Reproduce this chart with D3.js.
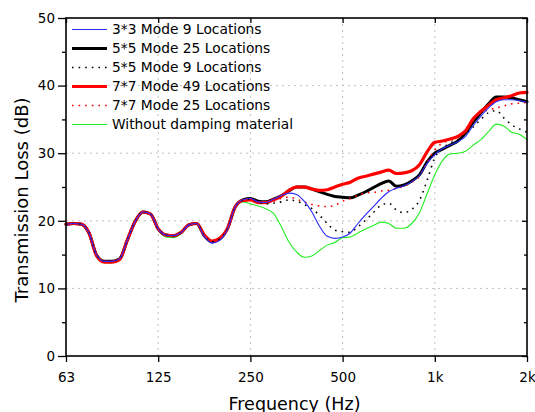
<!DOCTYPE html>
<html><head><meta charset="utf-8">
<script src="https://cdn.jsdelivr.net/npm/d3@7"></script>
<style>html,body{margin:0;padding:0;background:#fff;}svg{display:block;}</style>
</head><body>
<script>
const freqs = [62.5, 66.2, 70.2, 74.3, 78.7, 83.4, 88.4, 93.6, 99.2, 105.1, 111.4, 118, 125, 132.4, 140.3, 148.7, 157.5, 166.9, 176.8, 187.3, 198.4, 210.2, 222.7, 236, 250, 264.9, 280.6, 297.3, 315, 333.7, 353.6, 374.6, 396.9, 420.4, 445.4, 471.9, 500, 529.7, 561.2, 594.6, 630, 667.4, 707.1, 749.2, 793.7, 840.9, 890.9, 943.9, 1000, 1059.5, 1122.5, 1189.2, 1259.9, 1334.8, 1414.2, 1498.3, 1587.4, 1681.8, 1781.8, 1887.7, 2000];

const mode3x3_9 = [19.5,19.6,19.5,18.2,14.9,14.0,14.0,14.4,17.2,19.9,21.3,21.0,18.8,17.9,17.8,18.3,19.4,19.6,17.7,16.7,17.1,18.7,22.0,23.1,
  23.3,22.8,22.7,23.2,23.7,24.1,23.9,22.9,21.3,19.2,17.7,17.4,17.6,18.2,19.6,20.9,22.1,23.3,24.3,24.8,25.2,25.8,26.7,28.5,29.8,30.7,31.2,31.7,32.5,34.1,35.5,36.7,37.6,37.9,37.9,37.8,37.5];
const mode5x5_25 = [19.5,19.6,19.5,18.2,14.9,14.0,14.0,14.4,17.2,19.9,21.3,21.0,18.8,17.9,17.8,18.3,19.4,19.6,17.8,16.9,17.3,18.8,22.0,23.1,
  23.3,22.9,22.8,23.2,23.7,24.4,25.0,25.0,24.7,24.3,23.9,23.6,23.5,23.4,23.8,24.3,24.9,25.5,25.9,25.1,25.3,25.9,26.8,28.7,30.0,30.6,31.2,31.8,33.0,34.6,36.0,37.3,38.3,38.3,38.2,37.9,37.6];
const mode5x5_9 = [19.5,19.6,19.5,18.2,14.9,14.0,14.0,14.4,17.2,19.9,21.3,21.0,18.8,17.9,17.8,18.3,19.4,19.6,17.8,16.9,17.3,18.8,22.0,23.0,
  23.2,22.8,22.5,22.6,22.8,23.1,22.9,22.4,21.8,20.8,19.6,18.6,18.4,18.3,19.1,20.1,21.2,22.3,22.6,21.6,21.2,21.7,23.0,26.0,29.3,30.7,31.5,32.0,32.8,33.9,35.0,36.0,36.3,35.2,34.2,33.6,33.1];
const mode7x7_49 = [19.5,19.6,19.5,18.2,14.8,13.9,13.9,14.3,17.2,19.9,21.3,21.0,18.8,17.9,17.8,18.3,19.4,19.6,17.9,17.0,17.4,18.8,22.0,23.0,
  23.1,22.7,22.7,23.1,23.6,24.5,25.0,25.0,24.7,24.5,24.6,25.0,25.4,25.7,26.3,26.6,26.9,27.2,27.5,27.0,27.1,27.4,28.3,30.2,31.6,31.8,32.1,32.5,33.3,35.1,36.2,37.1,37.9,38.2,38.5,38.9,39.0];
const mode7x7_25 = [19.5,19.6,19.5,18.2,14.8,13.9,13.9,14.3,17.2,19.9,21.3,21.0,18.8,17.9,17.8,18.3,19.4,19.6,17.9,17.0,17.4,18.8,22.0,23.0,
  23.1,22.7,22.7,22.9,23.3,23.5,23.2,22.8,22.4,22.2,22.1,22.3,22.9,23.3,23.8,24.1,24.2,24.4,24.5,24.8,25.1,25.7,26.6,28.6,30.5,31.5,31.9,32.3,33.5,35.1,36.0,36.4,36.7,37.0,37.3,37.4,37.5];
const noDamping = [19.4,19.5,19.4,18.1,14.8,13.8,13.8,14.2,17.1,19.8,21.2,20.9,18.6,17.6,17.5,18.1,19.3,19.5,17.8,16.9,17.3,18.6,21.8,22.8,
  22.5,22.2,21.8,21.1,19.2,16.9,15.4,14.6,14.8,15.6,16.4,16.8,17.5,17.6,18.2,18.8,19.3,19.8,19.6,18.9,18.9,19.6,21.2,24.0,26.8,28.9,29.9,30.0,30.3,31.2,32.0,33.2,34.3,34.0,33.1,32.8,32.0];

const seriesNames = ["3*3 Mode 9 Locations","5*5 Mode 25 Locations","5*5 Mode 9 Locations","7*7 Mode 49 Locations","7*7 Mode 25 Locations","Without damping material"];
const seriesValues = [mode3x3_9, mode5x5_25, mode5x5_9, mode7x7_49, mode7x7_25, noDamping];
const xTickValues = [62.5,125,250,500,1000,2000];
const xTickLabels = ["63","125","250","500","1k","2k"];
const yTicks = [0,10,20,30,40,50];
const yMinorTicks = [5,15,25,35,45];

const styles = [
  {color:"#2a2aff", width:1.1, dash:null},
  {color:"#000000", width:3, dash:null},
  {color:"#000000", width:1.6, dash:"1.6,5"},
  {color:"#ff0000", width:3.2, dash:null},
  {color:"#ff0000", width:1.6, dash:"1.6,5"},
  {color:"#22ee22", width:1.1, dash:null}
];
const drawOrder = [5,1,3,4,2,0];

const W=535,H=412;
const m={l:66,r:8,t:18,b:56};
const svg=d3.select("body").append("svg").attr("width",W).attr("height",H);
const x=d3.scaleLog().domain([62.5,2000]).range([m.l,W-m.r]);
const y=d3.scaleLinear().domain([0,50]).range([H-m.b,m.t]);
const font="'DejaVu Sans', sans-serif";

// grid
const g=svg.append("g");
g.selectAll("line.gx").data(xTickValues.slice(1,-1)).join("line")
 .attr("x1",d=>x(d)).attr("x2",d=>x(d)).attr("y1",y(0)).attr("y2",y(50))
 .attr("stroke","#c0c0c0").attr("stroke-width",1).attr("stroke-dasharray","2,4");
g.selectAll("line.gy").data(yTicks.slice(1,-1)).join("line")
 .attr("y1",d=>y(d)).attr("y2",d=>y(d)).attr("x1",x(62.5)).attr("x2",x(2000))
 .attr("stroke","#c0c0c0").attr("stroke-width",1).attr("stroke-dasharray","2,4");

// lines
const line=d3.line().x((d,i)=>x(freqs[i])).y(d=>y(d)).curve(d3.curveMonotoneX);
drawOrder.forEach(k=>{
  const p=svg.append("path").datum(seriesValues[k]).attr("d",line)
   .attr("fill","none").attr("stroke",styles[k].color).attr("stroke-width",styles[k].width)
   .attr("stroke-linejoin","round").attr("stroke-linecap",styles[k].dash?"butt":"round");
  if(styles[k].dash) p.attr("stroke-dasharray",styles[k].dash);
});

// axes
const xAxis=d3.axisBottom(x).tickValues(xTickValues).tickFormat((d,i)=>xTickLabels[i]).tickSize(6).tickPadding(10);
svg.append("g").attr("transform",`translate(0,${y(0)})`).call(xAxis);
const yAxis=d3.axisLeft(y).tickValues(yTicks).tickSize(8).tickPadding(3);
svg.append("g").attr("transform",`translate(${x(62.5)},0)`).call(yAxis);
const yMinor=d3.axisLeft(y).tickValues(yMinorTicks).tickSize(4).tickFormat("");
svg.append("g").attr("transform",`translate(${x(62.5)},0)`).call(yMinor);
const yRight=d3.axisLeft(y).tickValues(yTicks).tickSize(5).tickFormat("");
svg.append("g").attr("transform",`translate(${x(2000)},0)`).call(yRight);
const yRightMinor=d3.axisLeft(y).tickValues(yMinorTicks).tickSize(3).tickFormat("");
svg.append("g").attr("transform",`translate(${x(2000)},0)`).call(yRightMinor);
const xTop=d3.axisBottom(x).tickValues(xTickValues).tickSize(5).tickFormat("");
svg.append("g").attr("transform",`translate(0,${y(50)})`).call(xTop);
svg.selectAll(".tick text").attr("font-family",font).attr("font-size",13.5).attr("fill","#000");
svg.selectAll(".tick line").attr("stroke","#000").attr("stroke-width",1.3);
svg.selectAll(".domain").remove();
// frame
svg.append("rect").attr("x",x(62.5)).attr("y",y(50)).attr("width",x(2000)-x(62.5)).attr("height",y(0)-y(50))
 .attr("fill","none").attr("stroke","#000").attr("stroke-width",1.6);

// legend
const lg=svg.append("g");
seriesNames.forEach((n,k)=>{
  const yy=29.5+k*19;
  const l=lg.append("line").attr("x1",72).attr("x2",107).attr("y1",yy).attr("y2",yy)
    .attr("stroke",styles[k].color).attr("stroke-width",styles[k].width);
  if(styles[k].dash) l.attr("stroke-dasharray",styles[k].dash);
  lg.append("text").attr("x",112).attr("y",yy).attr("dy","0.36em").text(n)
    .attr("font-family",font).attr("font-size",13.8).attr("fill","#000");
});

// axis titles
svg.append("text").attr("x",(x(62.5)+x(2000))/2 - 2).attr("y",410).attr("text-anchor","middle")
  .attr("font-family",font).attr("font-size",17.5).text("Frequency (Hz)");
svg.append("text").attr("transform",`translate(28,200) rotate(-90)`).attr("text-anchor","middle")
  .attr("font-family",font).attr("font-size",18).text("Transmission Loss (dB)");
</script>
</body></html>
